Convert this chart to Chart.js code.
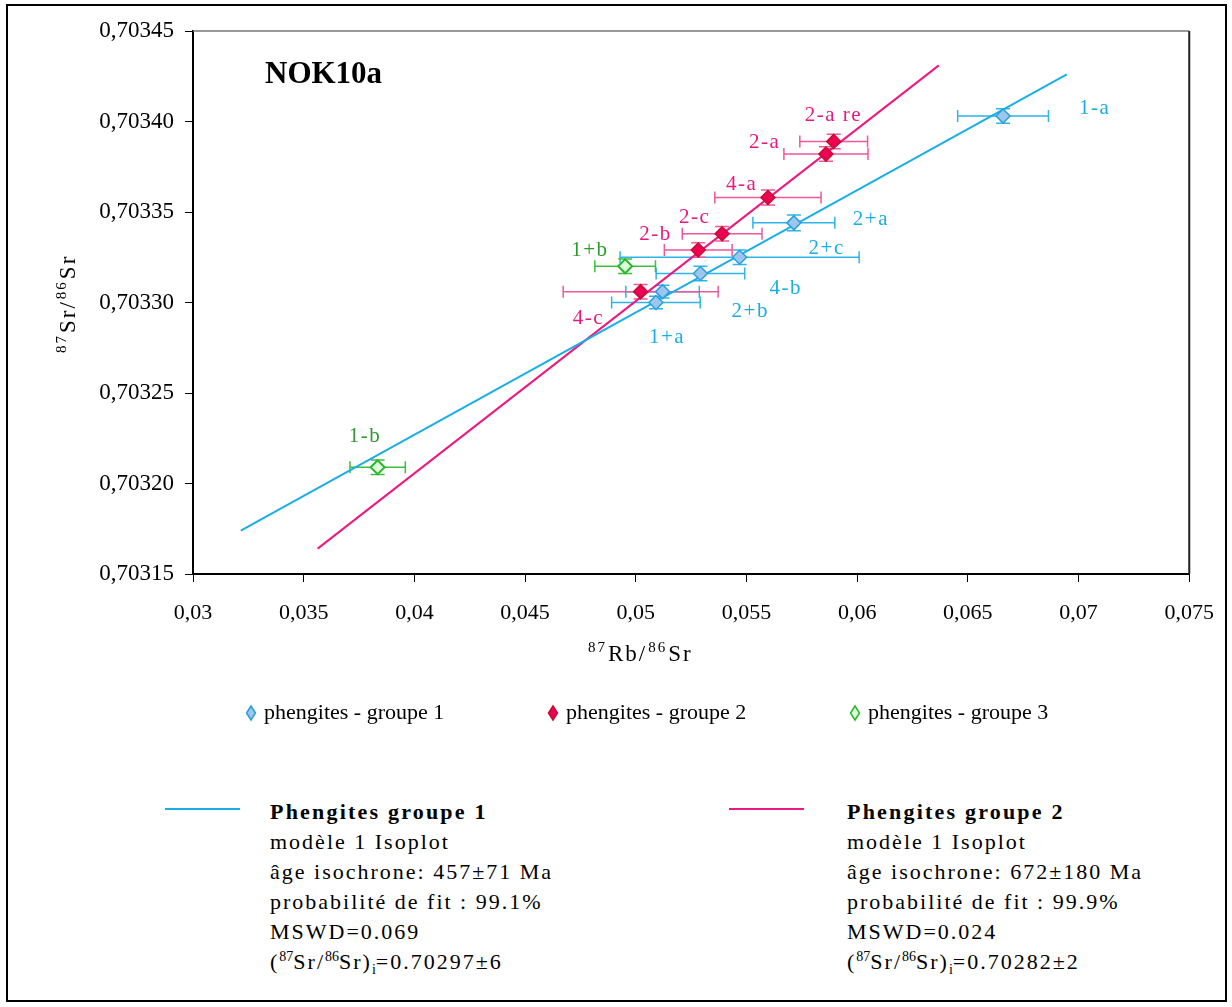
<!DOCTYPE html>
<html>
<head>
<meta charset="utf-8">
<title>NOK10a - isochrone Rb/Sr</title>
<script src="https://cdn.jsdelivr.net/npm/chart.js@4.4.1/dist/chart.umd.min.js"></script>
<style>
  body { margin: 0; background: #fff; }
  #wrap { position: relative; width: 1232px; height: 1007px; font-family: 'Liberation Serif', 'Times New Roman', serif; }
  #frame { position: absolute; left: 6px; top: 4px; width: 1221px; height: 998px; border: 2px solid #000; box-sizing: border-box; }
  #chart { position: absolute; left: 0; top: 0; }
  .note { position: absolute; top: 797px; font-size: 22px; line-height: 30px; letter-spacing: 2px; color: #000; white-space: nowrap; }
  .note b { letter-spacing: 2.2px; }
  .swatch { position: absolute; top: 808px; height: 2px; }
  .note sup, .note sub { font-size: 14px; line-height: 0; letter-spacing: 0; }
</style>
</head>
<body>
<div id="wrap">
  <div id="frame"></div>
  <canvas id="chart" width="1232" height="760"></canvas>

  <div class="swatch" style="left:165px;width:75px;background:#1aaee8"></div>
  <div class="note" style="left:270px">
    <b>Phengites groupe 1</b><br>
    modèle 1 Isoplot<br>
    âge isochrone: 457±71 Ma<br>
    probabilité de fit : 99.1%<br>
    MSWD=0.069<br>
    (<sup>87</sup>Sr/<sup>86</sup>Sr)<sub>i</sub>=0.70297±6
  </div>

  <div class="swatch" style="left:729px;width:75px;background:#ec1a7e"></div>
  <div class="note" style="left:847px">
    <b>Phengites groupe 2</b><br>
    modèle 1 Isoplot<br>
    âge isochrone: 672±180 Ma<br>
    probabilité de fit : 99.9%<br>
    MSWD=0.024<br>
    (<sup>87</sup>Sr/<sup>86</sup>Sr)<sub>i</sub>=0.70282±2
  </div>
</div>

<script>
// axes
const xTicks = [0.03, 0.035, 0.04, 0.045, 0.05, 0.055, 0.06, 0.065, 0.07, 0.075];
const xTickLabels = ['0,03', '0,035', '0,04', '0,045', '0,05', '0,055', '0,06', '0,065', '0,07', '0,075'];
const yTicks = [0.70315, 0.7032, 0.70325, 0.7033, 0.70335, 0.7034, 0.70345];
const yTickLabels = ['0,70315', '0,70320', '0,70325', '0,70330', '0,70335', '0,70340', '0,70345'];

// phengites - groupe 1
const g1Names = ['1-a', '2+a', '2+c', '4-b', '2+b', '1+a'];
const g1Rb = [0.06659, 0.05714, 0.05469, 0.05292, 0.05121, 0.05091];
const g1Sr = [0.703403, 0.703344, 0.703325, 0.703316, 0.703306, 0.703300];
const g1RbErr = [0.00205, 0.00185, 0.0054, 0.0020, 0.00166, 0.0020];
const g1SrErr = [0.000004, 0.0000043, 0.000004, 0.000004, 0.0000035, 0.0000035];

// phengites - groupe 2
const g2Names = ['2-a re', '2-a', '4-a', '2-c', '2-b', '4-c'];
const g2Rb = [0.05894, 0.05859, 0.05597, 0.0539, 0.05282, 0.05022];
const g2Sr = [0.703389, 0.703382, 0.703358, 0.703338, 0.703329, 0.703306];
const g2RbErr = [0.00153, 0.0019, 0.0024, 0.0018, 0.00153, 0.0035];
const g2SrErr = [0.000004, 0.000004, 0.0000041, 0.000004, 0.000004, 0.000004];

// phengites - groupe 3
const g3Names = ['1+b', '1-b'];
const g3Rb = [0.04952, 0.03834];
const g3Sr = [0.70332, 0.703209];
const g3RbErr = [0.00137, 0.00125];
const g3SrErr = [0.000004, 0.000004];

// isochrones
const iso1Rb = [0.03216, 0.06947];
const iso1Sr = [0.703174, 0.703426];
const iso2Rb = [0.03563, 0.06369];
const iso2Sr = [0.703164, 0.703431];

// label placement (px offsets from the point)
const g1LabelOff = [[76, -8], [59, -3], [69, -9], [69, 15], [69, 20], [-7, 35]];
const g2LabelOff = [[-29, -26], [-77, -12], [-42, -13], [-43, -16], [-59, -16], [-68, 27]];
const g3LabelOff = [[-54, -16], [-29, -31]];

const SERIF = "'Liberation Serif', 'Times New Roman', serif";

function pts(xs, ys){ return xs.map((v, i) => ({ x: v, y: ys[i] })); }

function drawSupText(ctx, parts, x, y){
	let cx = x;
	if ('letterSpacing' in ctx) ctx.letterSpacing = '2px';
	for (const p of parts){
		ctx.font = p.sup ? `15px ${SERIF}` : `23px ${SERIF}`;
		ctx.fillText(p.t, cx, p.sup ? y - 9 : y);
		cx += ctx.measureText(p.t).width + 1;
	}
	if ('letterSpacing' in ctx) ctx.letterSpacing = '0px';
}

const errorBars = {
	id: 'errorBars',
	beforeDatasetsDraw(chart){
		const { ctx, scales: { x, y } } = chart;
		chart.data.datasets.forEach(ds => {
			if (!ds.errX) return;
			ctx.save();
			ctx.strokeStyle = ds.errColor;
			ctx.lineWidth = 1.5;
			ds.data.forEach((p, i) => {
				const px = x.getPixelForValue(p.x), py = y.getPixelForValue(p.y);
				const x0 = x.getPixelForValue(p.x - ds.errX[i]), x1 = x.getPixelForValue(p.x + ds.errX[i]);
				const y0 = y.getPixelForValue(p.y - ds.errY[i]), y1 = y.getPixelForValue(p.y + ds.errY[i]);
				ctx.beginPath();
				ctx.moveTo(x0, py); ctx.lineTo(x1, py);
				ctx.moveTo(x0, py - 6); ctx.lineTo(x0, py + 6);
				ctx.moveTo(x1, py - 6); ctx.lineTo(x1, py + 6);
				ctx.moveTo(px, y0); ctx.lineTo(px, y1);
				ctx.moveTo(px - 7, y0); ctx.lineTo(px + 7, y0);
				ctx.moveTo(px - 7, y1); ctx.lineTo(px + 7, y1);
				ctx.stroke();
			});
			ctx.restore();
		});
	}
};

const pointLabels = {
	id: 'pointLabels',
	afterDatasetsDraw(chart){
		const { ctx, scales: { x, y } } = chart;
		chart.data.datasets.forEach(ds => {
			if (!ds.names) return;
			ctx.save();
			ctx.font = `21px ${SERIF}`;
			if ('letterSpacing' in ctx) ctx.letterSpacing = '1.5px';
			ctx.fillStyle = ds.labelColor;
			ctx.textAlign = 'left';
			ctx.textBaseline = 'middle';
			ds.data.forEach((p, i) => {
				const off = ds.labelOff[i];
				ctx.fillText(ds.names[i], x.getPixelForValue(p.x) + off[0], y.getPixelForValue(p.y) + off[1]);
			});
			ctx.restore();
		});
	}
};

const decor = {
	id: 'decor',
	afterDraw(chart){
		const { ctx, chartArea: a } = chart;
		ctx.save();
		// top and right frame of the plot
		ctx.strokeStyle = '#777'; ctx.lineWidth = 1.5;
		ctx.beginPath(); ctx.moveTo(a.left, a.top); ctx.lineTo(a.right, a.top); ctx.stroke();
		ctx.strokeStyle = '#222'; ctx.lineWidth = 2;
		ctx.beginPath(); ctx.moveTo(a.right, a.top); ctx.lineTo(a.right, a.bottom); ctx.stroke();

		// sample name
		ctx.fillStyle = '#000';
		ctx.font = `bold 31px ${SERIF}`;
		ctx.textBaseline = 'alphabetic';
		ctx.fillText('NOK10a', 265, 83);

		// axis titles
		ctx.textAlign = 'left';
		drawSupText(ctx, [{ t: '87', sup: true }, { t: 'Rb/' }, { t: '86', sup: true }, { t: 'Sr' }], 588, 661);
		ctx.save();
		ctx.translate(75, 353);
		ctx.rotate(-Math.PI / 2);
		drawSupText(ctx, [{ t: '87', sup: true }, { t: 'Sr/' }, { t: '86', sup: true }, { t: 'Sr' }], 0, 0);
		ctx.restore();

		// legend
		const lx = [251, 553, 855], ly = 713;
		chart.data.datasets.filter(ds => ds.names).forEach((ds, i) => {
			ctx.beginPath();
			ctx.moveTo(lx[i], ly - 7); ctx.lineTo(lx[i] + 4.5, ly);
			ctx.lineTo(lx[i], ly + 7); ctx.lineTo(lx[i] - 4.5, ly); ctx.closePath();
			ctx.fillStyle = ds.backgroundColor; ctx.fill();
			ctx.strokeStyle = ds.borderColor; ctx.lineWidth = 1.5; ctx.stroke();
			ctx.fillStyle = '#000';
			ctx.font = `22px ${SERIF}`;
			ctx.textBaseline = 'middle';
			ctx.fillText(ds.label, lx[i] + 13, ly);
		});
		ctx.restore();
	}
};

const H = 760;
new Chart(document.getElementById('chart'), {
	type: 'scatter',
	data: {
		datasets: [
			{ label: 'phengites - groupe 1', data: pts(g1Rb, g1Sr), names: g1Names, labelOff: g1LabelOff,
			  errX: g1RbErr, errY: g1SrErr, errColor: '#2fb3e8', labelColor: '#1aace4',
			  pointStyle: 'rectRot', pointRadius: 7, backgroundColor: '#9dc6ee', borderColor: '#2a9fdc', borderWidth: 1.5, order: 1 },
			{ label: 'phengites - groupe 2', data: pts(g2Rb, g2Sr), names: g2Names, labelOff: g2LabelOff,
			  errX: g2RbErr, errY: g2SrErr, errColor: '#f0579c', labelColor: '#e8197e',
			  pointStyle: 'rectRot', pointRadius: 7, backgroundColor: '#ee0055', borderColor: '#c3102e', borderWidth: 1.5, order: 1 },
			{ label: 'phengites - groupe 3', data: pts(g3Rb, g3Sr), names: g3Names, labelOff: g3LabelOff,
			  errX: g3RbErr, errY: g3SrErr, errColor: '#3cbf3c', labelColor: '#2e9a2e',
			  pointStyle: 'rectRot', pointRadius: 7, backgroundColor: '#dcffdc', borderColor: '#2db52d', borderWidth: 2, order: 1 },
			{ label: 'Phengites groupe 1', data: pts(iso1Rb, iso1Sr), showLine: true, pointRadius: 0,
			  borderColor: '#1aaee8', borderWidth: 2, order: 2 },
			{ label: 'Phengites groupe 2', data: pts(iso2Rb, iso2Sr), showLine: true, pointRadius: 0,
			  borderColor: '#ec1a7e', borderWidth: 2, order: 2 }
		]
	},
	options: {
		responsive: false,
		animation: false,
		devicePixelRatio: 1,
		layout: { padding: { left: 0, top: 31, right: 40, bottom: H - 574 - 60 } },
		plugins: { legend: { display: false }, tooltip: { enabled: false } },
		scales: {
			x: {
				type: 'linear', min: 0.03, max: 0.075,
				afterBuildTicks: s => { s.ticks = xTicks.map(v => ({ value: v })); },
				afterFit: s => { s.height = 60; },
				ticks: { callback: (v, i) => xTickLabels[i], font: { family: SERIF, size: 22 }, color: '#000', padding: 18, maxRotation: 0, autoSkip: false },
				grid: { drawOnChartArea: false, drawTicks: true, tickLength: 8, color: '#000' },
				border: { display: true, color: '#000', width: 2 }
			},
			y: {
				type: 'linear', min: 0.70315, max: 0.70345,
				afterBuildTicks: s => { s.ticks = yTicks.map(v => ({ value: v })); },
				afterFit: s => { s.width = 193; },
				ticks: { callback: (v, i) => yTickLabels[i], font: { family: SERIF, size: 23 }, color: '#000', padding: 11, autoSkip: false },
				grid: { drawOnChartArea: false, drawTicks: true, tickLength: 8, color: '#000' },
				border: { display: true, color: '#000', width: 2 }
			}
		}
	},
	plugins: [errorBars, pointLabels, decor]
});
</script>
</body>
</html>
